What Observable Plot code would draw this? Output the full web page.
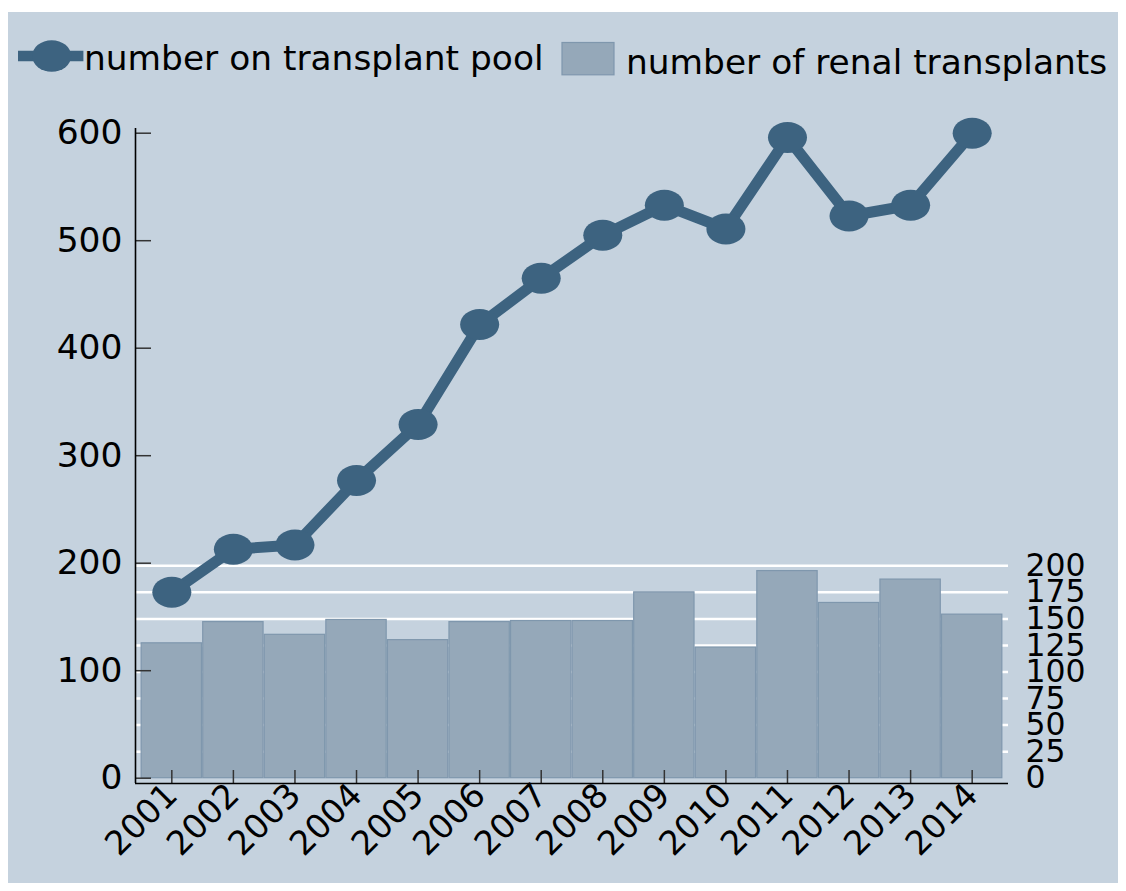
<!DOCTYPE html>
<html>
<head>
<meta charset="utf-8">
<script src="https://cdn.jsdelivr.net/npm/d3@7"></script>
<script src="https://cdn.jsdelivr.net/npm/@observablehq/plot@0.6"></script>
<style>
  html, body { margin: 0; padding: 0; background: #ffffff; }
  #panel { position: absolute; left: 8px; top: 12px; width: 1110px; height: 871px; background: #c5d2de; overflow: hidden; }
  #legend { position: absolute; left: 0; top: 0; }
  #chart { position: absolute; left: 0; top: 88px; }
  text { font-family: "DejaVu Sans", sans-serif; }
</style>
</head>
<body>
<div id="panel">
  <svg id="legend" width="1110" height="88"></svg>
  <div id="chart"></div>
</div>
<script>
// ---- data ----
const years = [2001, 2002, 2003, 2004, 2005, 2006, 2007, 2008, 2009, 2010, 2011, 2012, 2013, 2014];
const poolValues = [173, 213, 217, 277, 329, 422, 465, 505, 533, 511, 596, 523, 533, 600];
const transplantValues = [127, 147, 135, 149, 130, 147, 148, 148, 175, 123, 195, 165, 187, 154];
const leftTicks = [0, 100, 200, 300, 400, 500, 600];
const rightTicks = [0, 25, 50, 75, 100, 125, 150, 175, 200];
const seriesLabels = ["number on transplant pool", "number of renal transplants"];

// ---- style ----
const lineColor = "#3d6380";
const barFill = "#95a8b9";
const barStroke = "#7f97ad";
const fontFamily = "DejaVu Sans";

// secondary (right) axis: its 200 lines up with this value of the left axis
const rightScale = 197.6 / 200;

// ---- legend ----
(function () {
  const svg = d3.select("#legend");
  svg.append("line").attr("x1", 10).attr("x2", 75.4).attr("y1", 44).attr("y2", 44)
    .attr("stroke", lineColor).attr("stroke-width", 10.5);
  svg.append("ellipse").attr("cx", 43.7).attr("cy", 44).attr("rx", 19.5).attr("ry", 15.8).attr("fill", lineColor);
  svg.append("text").attr("x", 76).attr("y", 57.8).attr("font-size", 34.4).attr("fill", "black")
    .text(seriesLabels[0]);
  svg.append("rect").attr("x", 554).attr("y", 30.5).attr("width", 52).attr("height", 32.3)
    .attr("fill", barFill).attr("stroke", barStroke).attr("stroke-width", 1.2);
  svg.append("text").attr("x", 618).attr("y", 61.5).attr("font-size", 34.4).attr("fill", "black")
    .text(seriesLabels[1]);
})();

// ---- chart ----
const rows = years.map((year, i) => ({
  year: String(year),
  pool: poolValues[i],
  transplants: transplantValues[i]
}));

const W = 1110, H = 783;
const mL = 127, mR = 110, mT = 28, mB = 100;
const frameW = W - mL - mR;
const frameH = H - mT - mB;

const ellipse = {
  draw(ctx, size) {
    const r = Math.sqrt(size / Math.PI);
    const rx = r * 1.26, ry = r, c = 0.5523;
    ctx.moveTo(rx, 0);
    ctx.bezierCurveTo(rx, ry * c, rx * c, ry, 0, ry);
    ctx.bezierCurveTo(-rx * c, ry, -rx, ry * c, -rx, 0);
    ctx.bezierCurveTo(-rx, -ry * c, -rx * c, -ry, 0, -ry);
    ctx.bezierCurveTo(rx * c, -ry, rx, -ry * c, rx, 0);
    ctx.closePath();
  }
};

const chart = Plot.plot({
  width: W,
  height: H,
  marginLeft: mL,
  marginRight: mR,
  marginTop: mT,
  marginBottom: mB,
  style: { background: "transparent", fontFamily: fontFamily, color: "black", overflow: "visible" },
  x: { type: "band", domain: years.map(String), paddingInner: 0.02, paddingOuter: 0.1, align: 0.5, round: false },
  y: { domain: [0, 600], range: [H - mB - 5.3, mT + 4.7] },
  marks: [
    Plot.ruleY(rightTicks.filter(t => t > 0), { y: t => t * rightScale, stroke: "white", strokeWidth: 2.5 }),
    Plot.barY(rows, { x: "year", y: d => d.transplants * rightScale, fill: barFill, stroke: barStroke, strokeWidth: 1.2 }),
    Plot.ruleY(leftTicks, { y: d => d, insetRight: frameW - 16, stroke: "#333", strokeWidth: 1.5 }),
    Plot.ruleX(years.map(String), { x: d => d, insetTop: frameH - 13, stroke: "#333", strokeWidth: 1.5 }),
    Plot.ruleY([0], { y: d => d, dy: 5.3, stroke: "black", strokeWidth: 1.6 }),
    Plot.ruleX([0], { x: null, dx: -frameW / 2, stroke: "black", strokeWidth: 1.6 }),
    Plot.line(rows, { x: "year", y: "pool", stroke: lineColor, strokeWidth: 11, strokeLinejoin: "round" }),
    Plot.dot(rows, { x: "year", y: "pool", r: 15.5, fill: lineColor, symbol: ellipse }),
    Plot.axisY(leftTicks, { anchor: "left", tickSize: 0, tickPadding: 13, fontSize: 34.5, label: null }),
    Plot.axisY(rightTicks.map(t => t * rightScale), {
      anchor: "right", tickSize: 0, tickPadding: 17, fontSize: 31.5, label: null,
      tickFormat: d => String(Math.round(d / rightScale))
    }),
    Plot.axisX({ tickRotate: -45, tickSize: 0, tickPadding: 6, fontSize: 33.5, label: null })
  ]
});
document.getElementById("chart").appendChild(chart);
</script>
</body>
</html>
